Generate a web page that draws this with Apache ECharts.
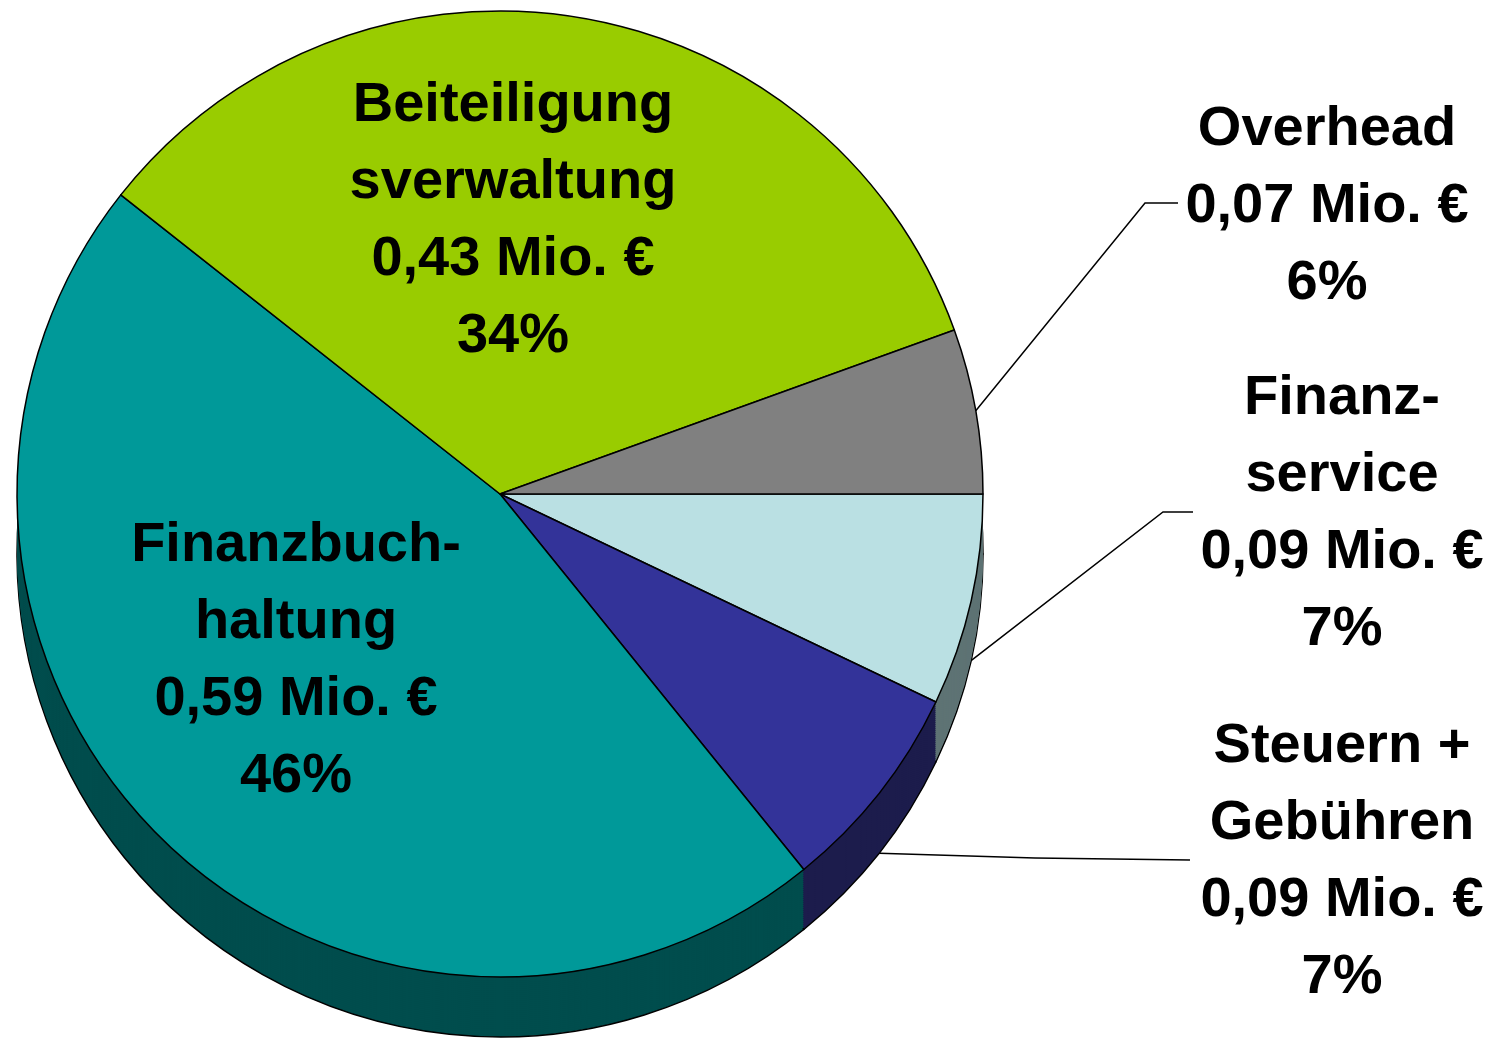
<!DOCTYPE html>
<html>
<head>
<meta charset="utf-8">
<script src="https://cdn.jsdelivr.net/npm/echarts@6/dist/echarts.min.js"></script>
<style>
  html, body { margin: 0; padding: 0; background: #fff; }
  #chart { width: 1491px; height: 1040px; }
</style>
</head>
<body>
<div id="chart"></div>
<script>
// slices, clockwise from 3 o'clock
const names = ['Finanz-\nservice', 'Steuern +\nGebühren', 'Finanzbuch-\nhaltung', 'Beiteiligung\nsverwaltung', 'Overhead'];
const values = [0.09, 0.09, 0.59, 0.43, 0.07];
const topColors = ['#BAE0E3', '#333399', '#009999', '#99CC00', '#808080'];
const sideColors = ['#5E7374', '#1C1C4C', '#004D4D', '#4D6600', '#404040'];

const cx = 500, cy = 494, R = 483, depth = 60;

// label placement (knee/end only for outside labels)
const labelSpots = [
  { x: 1342, y: 514, line: [[1163, 512], [1193, 512]] },
  { x: 1342, y: 862, line: [[1035, 858], [1190, 860]] },
  { x: 296, y: 661 },
  { x: 513, y: 221 },
  { x: 1327, y: 207, line: [[1145, 203], [1178, 203]] }
];

const fmtVal = v => v.toFixed(2).replace('.', ',');

const chart = echarts.init(document.getElementById('chart'));

function midAnchor(i) {
  const total = values.reduce((a, b) => a + b, 0);
  let acc = 0;
  for (let k = 0; k < i; k++) acc += values[k];
  const a = (acc + values[i] / 2) / total * Math.PI * 2;
  return [cx + R * Math.cos(a), cy + R * Math.sin(a)];
}

// extruded side: stack of pies, deepest first
const series = [];
for (let off = depth; off > 0; off -= 2) {
  series.push({
    type: 'pie',
    silent: true,
    center: [cx, cy + off],
    radius: R,
    startAngle: 0,
    clockwise: true,
    label: { show: false },
    labelLine: { show: false },
    itemStyle: off === depth ? { borderColor: '#000', borderWidth: 1.5 } : { borderWidth: 0 },
    data: names.map((n, i) => ({ name: n, value: values[i], itemStyle: { color: sideColors[i] } }))
  });
}

series.push({
  type: 'pie',
  silent: true,
  center: [cx, cy],
  radius: R,
  startAngle: 0,
  clockwise: true,
  percentPrecision: 0,
  itemStyle: { borderColor: '#000', borderWidth: 1.5 },
  label: {
    show: true,
    position: 'outside',
    color: '#000',
    fontFamily: '"Liberation Sans", Arial, sans-serif',
    fontWeight: 'bold',
    fontSize: 56,
    lineHeight: 77,
    align: 'center',
    formatter: p => p.name + '\n' + fmtVal(p.value) + ' Mio. €\n' + p.percent + '%'
  },
  labelLine: { show: true, lineStyle: { color: '#000', width: 1.5 } },
  labelLayout: params => {
    const s = labelSpots[params.dataIndex];
    const out = { x: s.x, y: s.y, align: 'center', verticalAlign: 'middle' };
    if (s.line) {
      let p0 = (params.labelLinePoints && params.labelLinePoints[0]) || midAnchor(params.dataIndex);
      p0 = [p0[0], p0[1]];
      if (p0[1] > cy) p0[1] += depth;
      out.labelLinePoints = [p0, s.line[0], s.line[1]];
    }
    return out;
  },
  data: names.map((n, i) => {
    const item = { name: n, value: values[i], itemStyle: { color: topColors[i] } };
    if (!labelSpots[i].line) {
      item.label = { position: 'inside' };
      item.labelLine = { show: false };
    }
    return item;
  })
});

chart.setOption({ animation: false, series: series });
window.addEventListener('resize', () => chart.resize());
</script>
</body>
</html>
